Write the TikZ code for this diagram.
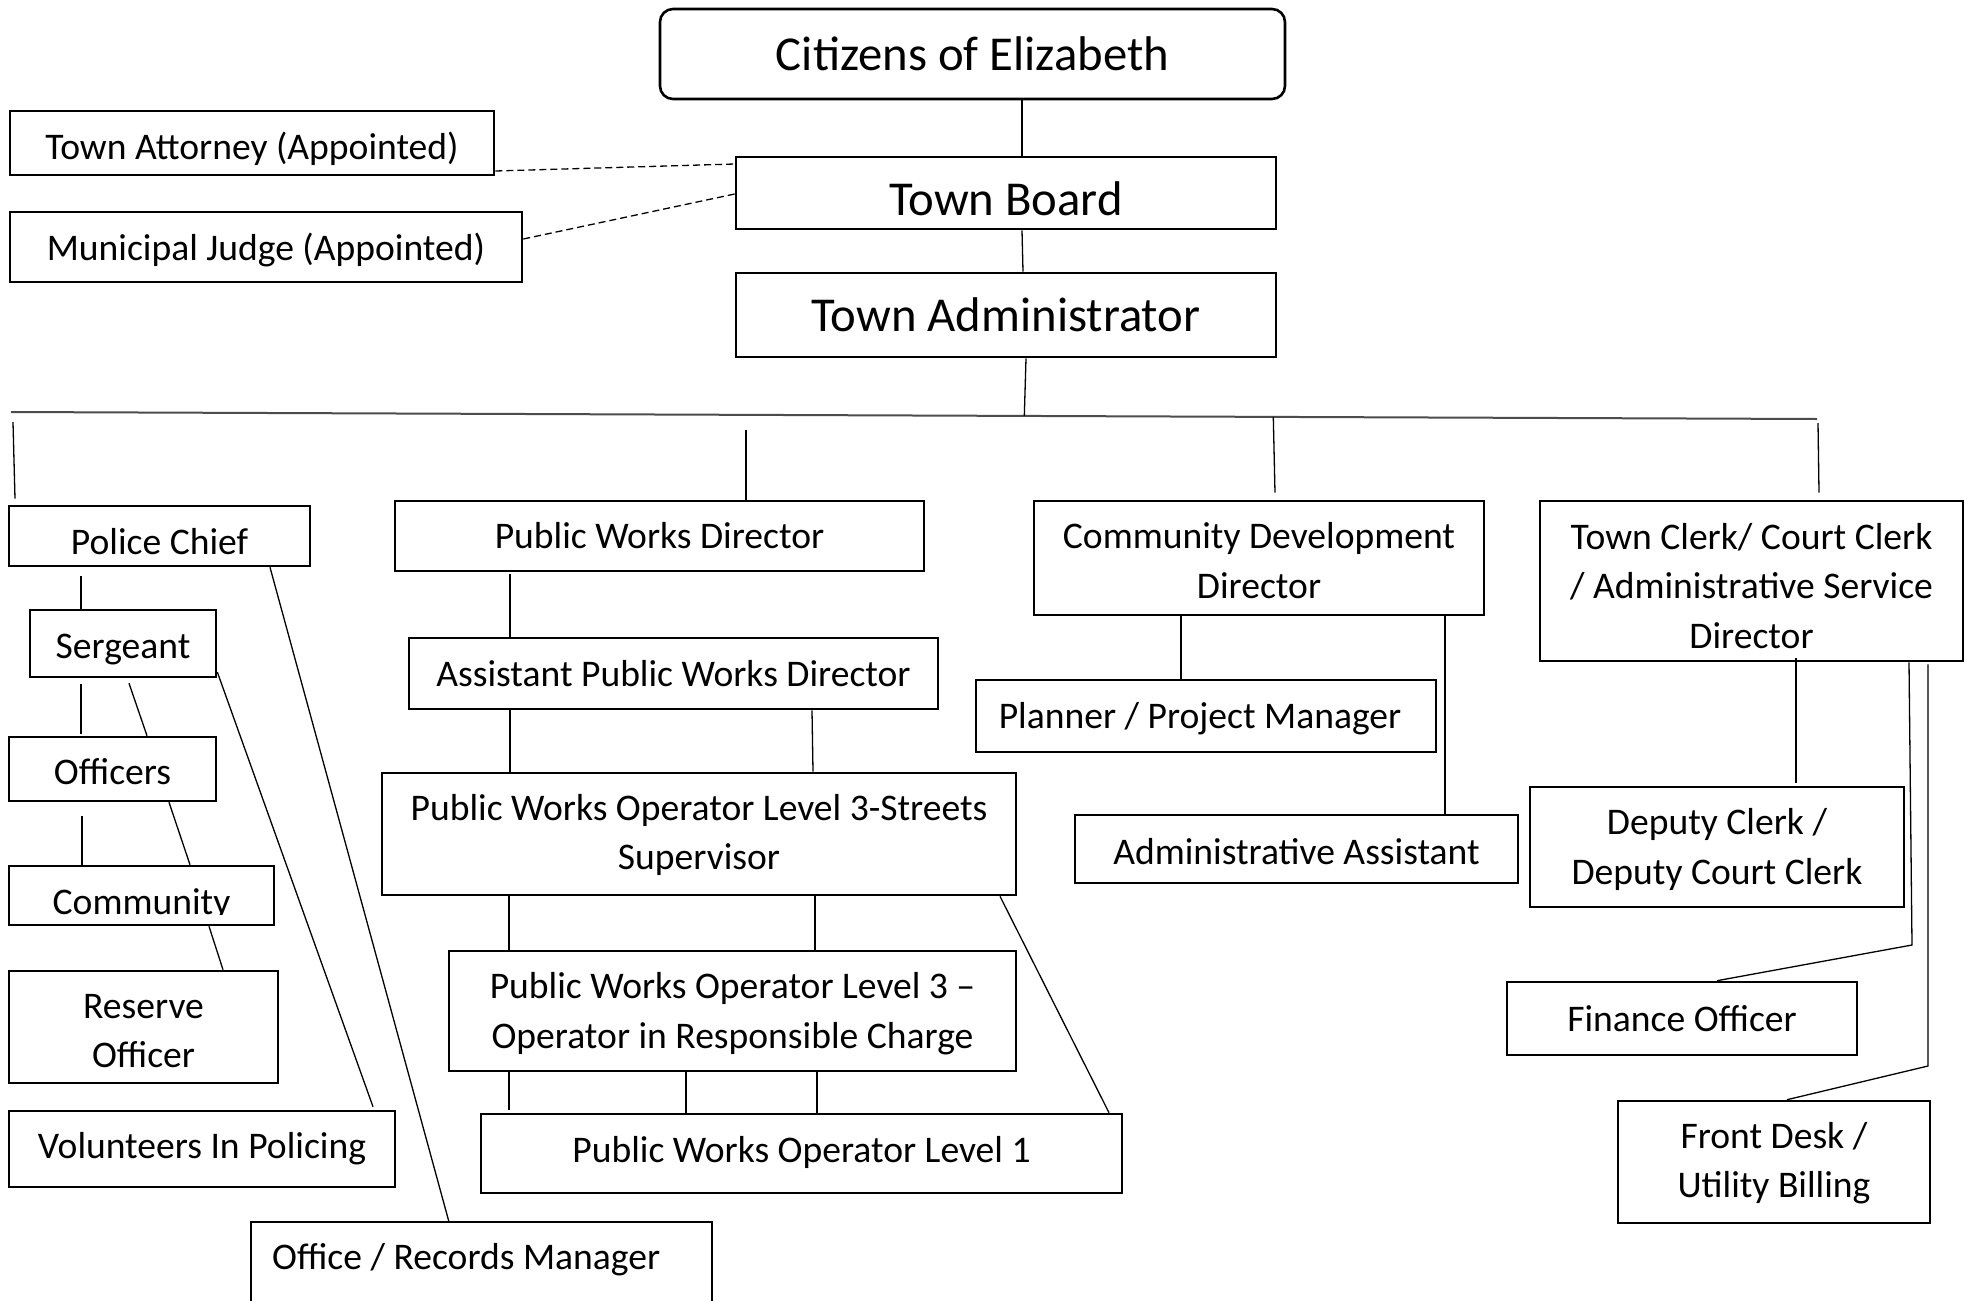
\documentclass[tikz,border=0pt]{standalone}
\usepackage{fontspec}
\setmainfont{Carlito}
\usetikzlibrary{calc}
\begin{document}
\begin{tikzpicture}[x=1pt,y=-1pt,
  boxline/.style={line width=2.6pt, line join=miter},
  wh/.style 2 args={minimum width=#1pt, minimum height=#2pt},
  txt/.style={inner sep=0pt, align=center, font=\fontsize{37.6}{49.5}\selectfont},
  bigtxt/.style={txt, font=\fontsize{48.7}{59}\selectfont},
  % box with its caption centred, lowered by #1 (px)
  box/.style 2 args={draw, boxline, inner sep=0pt,
              label={[txt, yshift=-#1pt]center:{#2}}},
  bigbox/.style 2 args={draw, boxline, inner sep=0pt,
              label={[bigtxt, yshift=-#1pt]center:{#2}}},
  conn/.style={line width=1.3pt},
  bus/.style={line width=2pt, black!70},
  appointed/.style={conn, dash pattern=on 7pt off 4pt}
]
\useasboundingbox (0,0) rectangle (1965,1301);
\fill[white] (0,0) rectangle (1965,1301);

% ---------- governing bodies ----------
\node[bigbox={0}{Citizens of Elizabeth}, wh={625}{90}, rounded corners=13pt] (cit) at (972.5,54) {};
\node[bigbox={6}{Town Board}, wh={540}{72}] (tb) at (1006,193) {};
\node[bigbox={0}{Town Administrator}, wh={540}{84}] (tad) at (1006,315) {};
\node[box={6}{Town Attorney (Appointed)}, wh={484}{64}] (ta) at (252,143) {};
\node[box={3}{Municipal Judge (Appointed)}, wh={512}{70}] (mj) at (266,247) {};

% ---------- department heads ----------
\node[box={6}{Police Chief}, wh={301}{60}] (pc) at (159.5,536) {};
\node[box={0}{Public Works Director}, wh={529}{70}] (pwd) at (659.5,536) {};
\node[box={2.5}{Community Development\\Director}, wh={450}{114}] (cdd) at (1259,558) {};
\node[box={5}{Town Clerk/ Court Clerk\\/ Administrative Service\\Director}, wh={423}{160}] (tc) at (1751.5,581) {};

% ---------- police ----------
\node[box={6}{Sergeant}, wh={186}{67}] (sg) at (123,643.5) {};
\node[box={2.5}{Officers}, wh={207}{64}] (of) at (112.5,769) {};
\node[draw, boxline, wh={265}{59}] (cm) at (141.5,895.5) {};
\begin{scope}
  \clip (cm.north west) rectangle (cm.east |- 0,914.5);
  \node[txt, anchor=base] (cmtext) at (141.5,914) {Community};
\end{scope}
\node[box={4}{Reserve\\Officer}, wh={269}{112}] (ro) at (143.5,1027) {};
\node[box={0}{Volunteers In Policing}, wh={386}{76}] (vp) at (202,1149) {};
\node[txt, anchor=base west] (orm) at (272,1269) {Office / Records Manager};
\draw[boxline] (251,1330) |- (712,1222) -- (712,1330);
\coordinate (ormtop) at (449,1222);

% ---------- public works ----------
\node[box={0}{Assistant Public Works Director}, wh={529}{71}] (apwd) at (673.5,673.5) {};
\node[box={1}{Public Works Operator Level 3-Streets\\Supervisor}, wh={634}{122}] (pws) at (699,834) {};
\node[box={2.5}{Public Works Operator Level 3 –\\Operator in Responsible Charge}, wh={567}{120}] (orc) at (732.5,1011) {};
\node[box={-1}{Public Works Operator Level 1}, wh={641}{79}] (pw1) at (801.5,1153.5) {};

% ---------- community development ----------
\node[box={2.5}{\hspace*{-12pt}Planner / Project Manager}, wh={460}{72}] (pl) at (1206,716) {};
\node[box={2.5}{Administrative Assistant}, wh={443}{68}] (aa) at (1296.5,849) {};

% ---------- town clerk ----------
\node[box={2.5}{Deputy Clerk /\\Deputy Court Clerk}, wh={374}{120}] (dc) at (1717,847) {};
\node[box={0}{Finance Officer}, wh={350}{73}] (fo) at (1682,1018.5) {};
\node[box={1}{Front Desk /\\Utility Billing}, wh={312}{122}] (fd) at (1774,1162) {};

% ---------- upper connectors ----------
\draw[conn] (cit.south -| 1022,0) -- (tb.north -| 1022,0);
\draw[conn] (tb.south -| 1022,0) -- (tad.north -| 1023,0);
\coordinate (busL) at (11,412);
\coordinate (busR) at (1817,419);
\draw[bus] (busL) -- (busR);
\draw[conn] (tad.south -| 1026,0) -- ($(busL)!(1026,0)!(busR)$);
\draw[appointed] (ta.east |- 0,171) -- (tb.west |- 0,164);
\draw[appointed] (mj.east |- 0,239) -- (tb.west |- 0,194);

% drops from the bus to each department
\coordinate (dropPC) at (13,422);
\coordinate (dropPW) at (746,430);
\coordinate (dropTC) at (1818,423);
\draw[conn] (dropPC) -- ($(pc.north -| 15,0)+(0,-6)$);
\draw[conn] (dropPW) -- (pwd.north -| 746,0);
\draw[conn] ($(busL)!(1275,0)!(busR)$) -- ($(cdd.north -| 1275,0)+(0,-7)$);
\draw[conn] (dropTC) -- ($(tc.north -| 1819,0)+(0,-7)$);

% ---------- police connectors ----------
\draw[conn] ($(pc.south -| 81,0)+(0,9)$) -- (sg.north -| 81,0);
\draw[conn] ($(sg.south -| 81,0)+(0,6)$) -- ($(of.north -| 81,0)+(0,-2)$);
\draw[conn] ($(sg.south -| 129,0)+(0,5)$) -- (of.north -| 147,0);
\draw[conn] ($(of.south -| 82,0)+(0,14)$) -- (cm.north -| 82,0);
\draw[conn] (of.south -| 169,0) -- (cm.north -| 190,0);
\draw[conn] (cm.south -| 209,0) -- (ro.north -| 223,0);
\draw[conn] (sg.east |- 0,672) -- ($(vp.north -| 373,0)+(0,-3)$);
\draw[conn] (pc.south -| 270,0) -- (ormtop);

% ---------- public works connectors ----------
\draw[conn] ($(pwd.south -| 510,0)+(0,2)$) -- (apwd.north -| 510,0);
\draw[conn] (apwd.south -| 510,0) -- (pws.north -| 510,0);
\draw[conn] (apwd.south -| 812,0) -- (pws.north -| 813,0);
\draw[conn] (pws.south -| 509,0) -- (orc.north -| 509,0);
\draw[conn] (pws.south -| 815,0) -- (orc.north -| 815,0);
\draw[conn] (orc.south -| 509,0) -- ($(pw1.north -| 509,0)+(0,-3)$);
\draw[conn] (orc.south -| 686,0) -- (pw1.north -| 686,0);
\draw[conn] (orc.south -| 817,0) -- (pw1.north -| 817,0);
\draw[conn] (pws.south -| 1000,0) -- (pw1.north -| 1109,0);

% ---------- community development connectors ----------
\draw[conn] (cdd.south -| 1181,0) -- (pl.north -| 1181,0);
\draw[conn] (cdd.south -| 1445,0) -- (aa.north -| 1445,0);

% ---------- town clerk connectors ----------
\coordinate (dcEnd) at (1796,783);
\coordinate (foBend) at (1912,945);
\coordinate (fdBend) at (1928,1066);
\draw[conn] ($(tc.south -| 1796,0)+(0,-4)$) -- (dcEnd);
\draw[conn] (tc.south -| 1909,0) -- (foBend) -- (fo.north -| 1717,0);
\draw[conn] ($(tc.south -| 1928,0)+(0,2)$) -- (fdBend) -- (fd.north -| 1787,0);
\end{tikzpicture}
\end{document}
